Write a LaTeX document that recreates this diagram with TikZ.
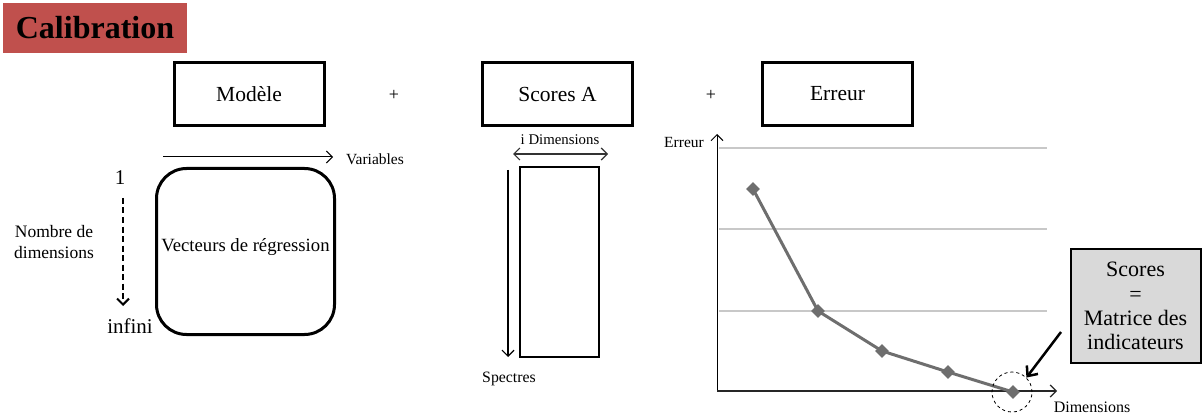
\documentclass[tikz,border=0pt]{standalone}
\usepackage{fontspec}
\setmainfont{Liberation Serif}
\usetikzlibrary{arrows.meta,shapes.geometric}
\definecolor{titlered}{HTML}{C0504D}
\definecolor{plotgray}{HTML}{6E6E6E}
\definecolor{gridgray}{HTML}{C8C8C8}
\definecolor{boxgray}{HTML}{D9D9D9}
\tikzset{
  fs/.style n args={2}{font=\fontsize{#1}{#2}\selectfont},
  headbox/.style={draw, line width=3pt, minimum width=150pt, minimum height=63pt, inner sep=0pt, fs={21.5}{25}},
  lbl/.style={inner sep=0pt, fs={15.5}{18}},
  barb/.style={-{Straight Barb[length=6pt,width=12pt]}},
  dbarb/.style={{Straight Barb[length=6pt,width=12pt]}-{Straight Barb[length=6pt,width=12pt]}},
  pt/.style={diamond, fill=plotgray, minimum size=14pt, inner sep=0pt},
  grid/.style={gridgray, line width=1.5pt},
}
\begin{document}
\begin{tikzpicture}[x=1pt,y=-1pt]
\useasboundingbox (0,0) rectangle (1203,417);
% title
\node[fill=titlered, minimum width=184pt, minimum height=50pt, inner sep=0pt,
      font=\fontsize{32}{36}\selectfont\bfseries] (title) at (95,28) {Calibration};
% header boxes
\node[headbox] (modele) at (249,94) {Modèle};
\node[fs={18}{21}, inner sep=0pt] (plus1) at (394,95) {+};
\node[headbox] (scoresA) at (557.5,94) {Scores A};
\node[fs={18}{21}, inner sep=0pt] (plus2) at (711,95) {+};
\node[headbox] (erreur) at (837.5,94) {Erreur};
% model part
\coordinate (varS) at (163,157);
\coordinate (varE) at (333,157);
\draw[barb, line width=1pt] (varS) -- (varE);
\node[lbl, anchor=west] (variables) at (346,159) {Variables};
\node[inner sep=0pt, fs={21}{25}] (one) at (120,178) {1};
\coordinate (dimS) at (123,198);
\coordinate (dimE) at (123,306);
\draw[barb, line width=2pt, dash pattern=on 6pt off 3.5pt] (dimS) -- (dimE);
\node[inner sep=0pt, fs={17.5}{21}, align=center] (nombre) at (54,242) {Nombre de\\dimensions};
\node[inner sep=0pt, fs={21}{25}] (infini) at (130,326) {infini};
\node[draw, line width=3pt, rounded corners=30pt, minimum width=178pt, minimum height=166pt,
      inner sep=0pt] (reg) at (245.5,251.5) {};
\node[inner sep=0pt, fs={18.7}{22}] (regtxt) at (245.5,247) {Vecteurs de régression};
% scores A part
\node[lbl, fs={14.8}{18}] (idim) at (560,140) {i Dimensions};
\coordinate (idL) at (513,154);
\coordinate (idR) at (608,154);
\draw[dbarb, line width=1.2pt, black!80] (idL) -- (idR);
\node[draw, line width=2pt, minimum width=79pt, minimum height=189pt, inner sep=0pt] (rect) at (559,262) {};
\coordinate (spS) at (508,170);
\coordinate (spE) at (508,357);
\draw[barb, line width=1.2pt] (spS) -- (spE);
\node[lbl, fs={15.8}{19}] (spectres) at (509,379) {Spectres};
% chart
\coordinate (origin) at (717,391);
\coordinate (ytop) at (717,134);
\coordinate (xend) at (1057,391);
\coordinate (g1a) at (719,148); \coordinate (g1b) at (1047,148);
\coordinate (g2a) at (719,229); \coordinate (g2b) at (1047,229);
\coordinate (g3a) at (719,311); \coordinate (g3b) at (1047,311);
\draw[grid] (g1a) -- (g1b);
\draw[grid] (g2a) -- (g2b);
\draw[grid] (g3a) -- (g3b);
\draw[barb, line width=1pt] (origin) -- (ytop);
\draw[barb, line width=1.2pt, black!85] (origin) -- (xend);
\node[lbl] (erreurlbl) at (684,143) {Erreur};
\node[lbl, fs={16}{19}] (dimlbl) at (1092,407) {Dimensions};
\node[pt] (p1) at (753,189) {};
\node[pt] (p2) at (818,311) {};
\node[pt] (p3) at (882,351) {};
\node[pt] (p4) at (948,372) {};
\node[pt] (p5) at (1013,392) {};
\draw[plotgray, line width=3pt, line join=round] (p1.center) -- (p2.center) -- (p3.center) -- (p4.center) -- (p5.center);
\node[circle, draw, dashed, line width=0.8pt, minimum size=40pt, inner sep=0pt] (circ) at (1012,392) {};
% scores box
\node[draw, fill=boxgray, line width=2pt, minimum width=130pt, minimum height=114pt,
      inner sep=0pt, fs={22}{25}, align=center] (scores) at (1135.5,305.5)
      {Scores\\[0pt]=\\[-1pt]Matrice des\\[-1pt]indicateurs};
\coordinate (arrS) at (1061,332);
\draw[-{Straight Barb[length=8pt,width=14pt]}, line width=2.5pt] (arrS) -- (circ.north east);
\end{tikzpicture}
\end{document}
